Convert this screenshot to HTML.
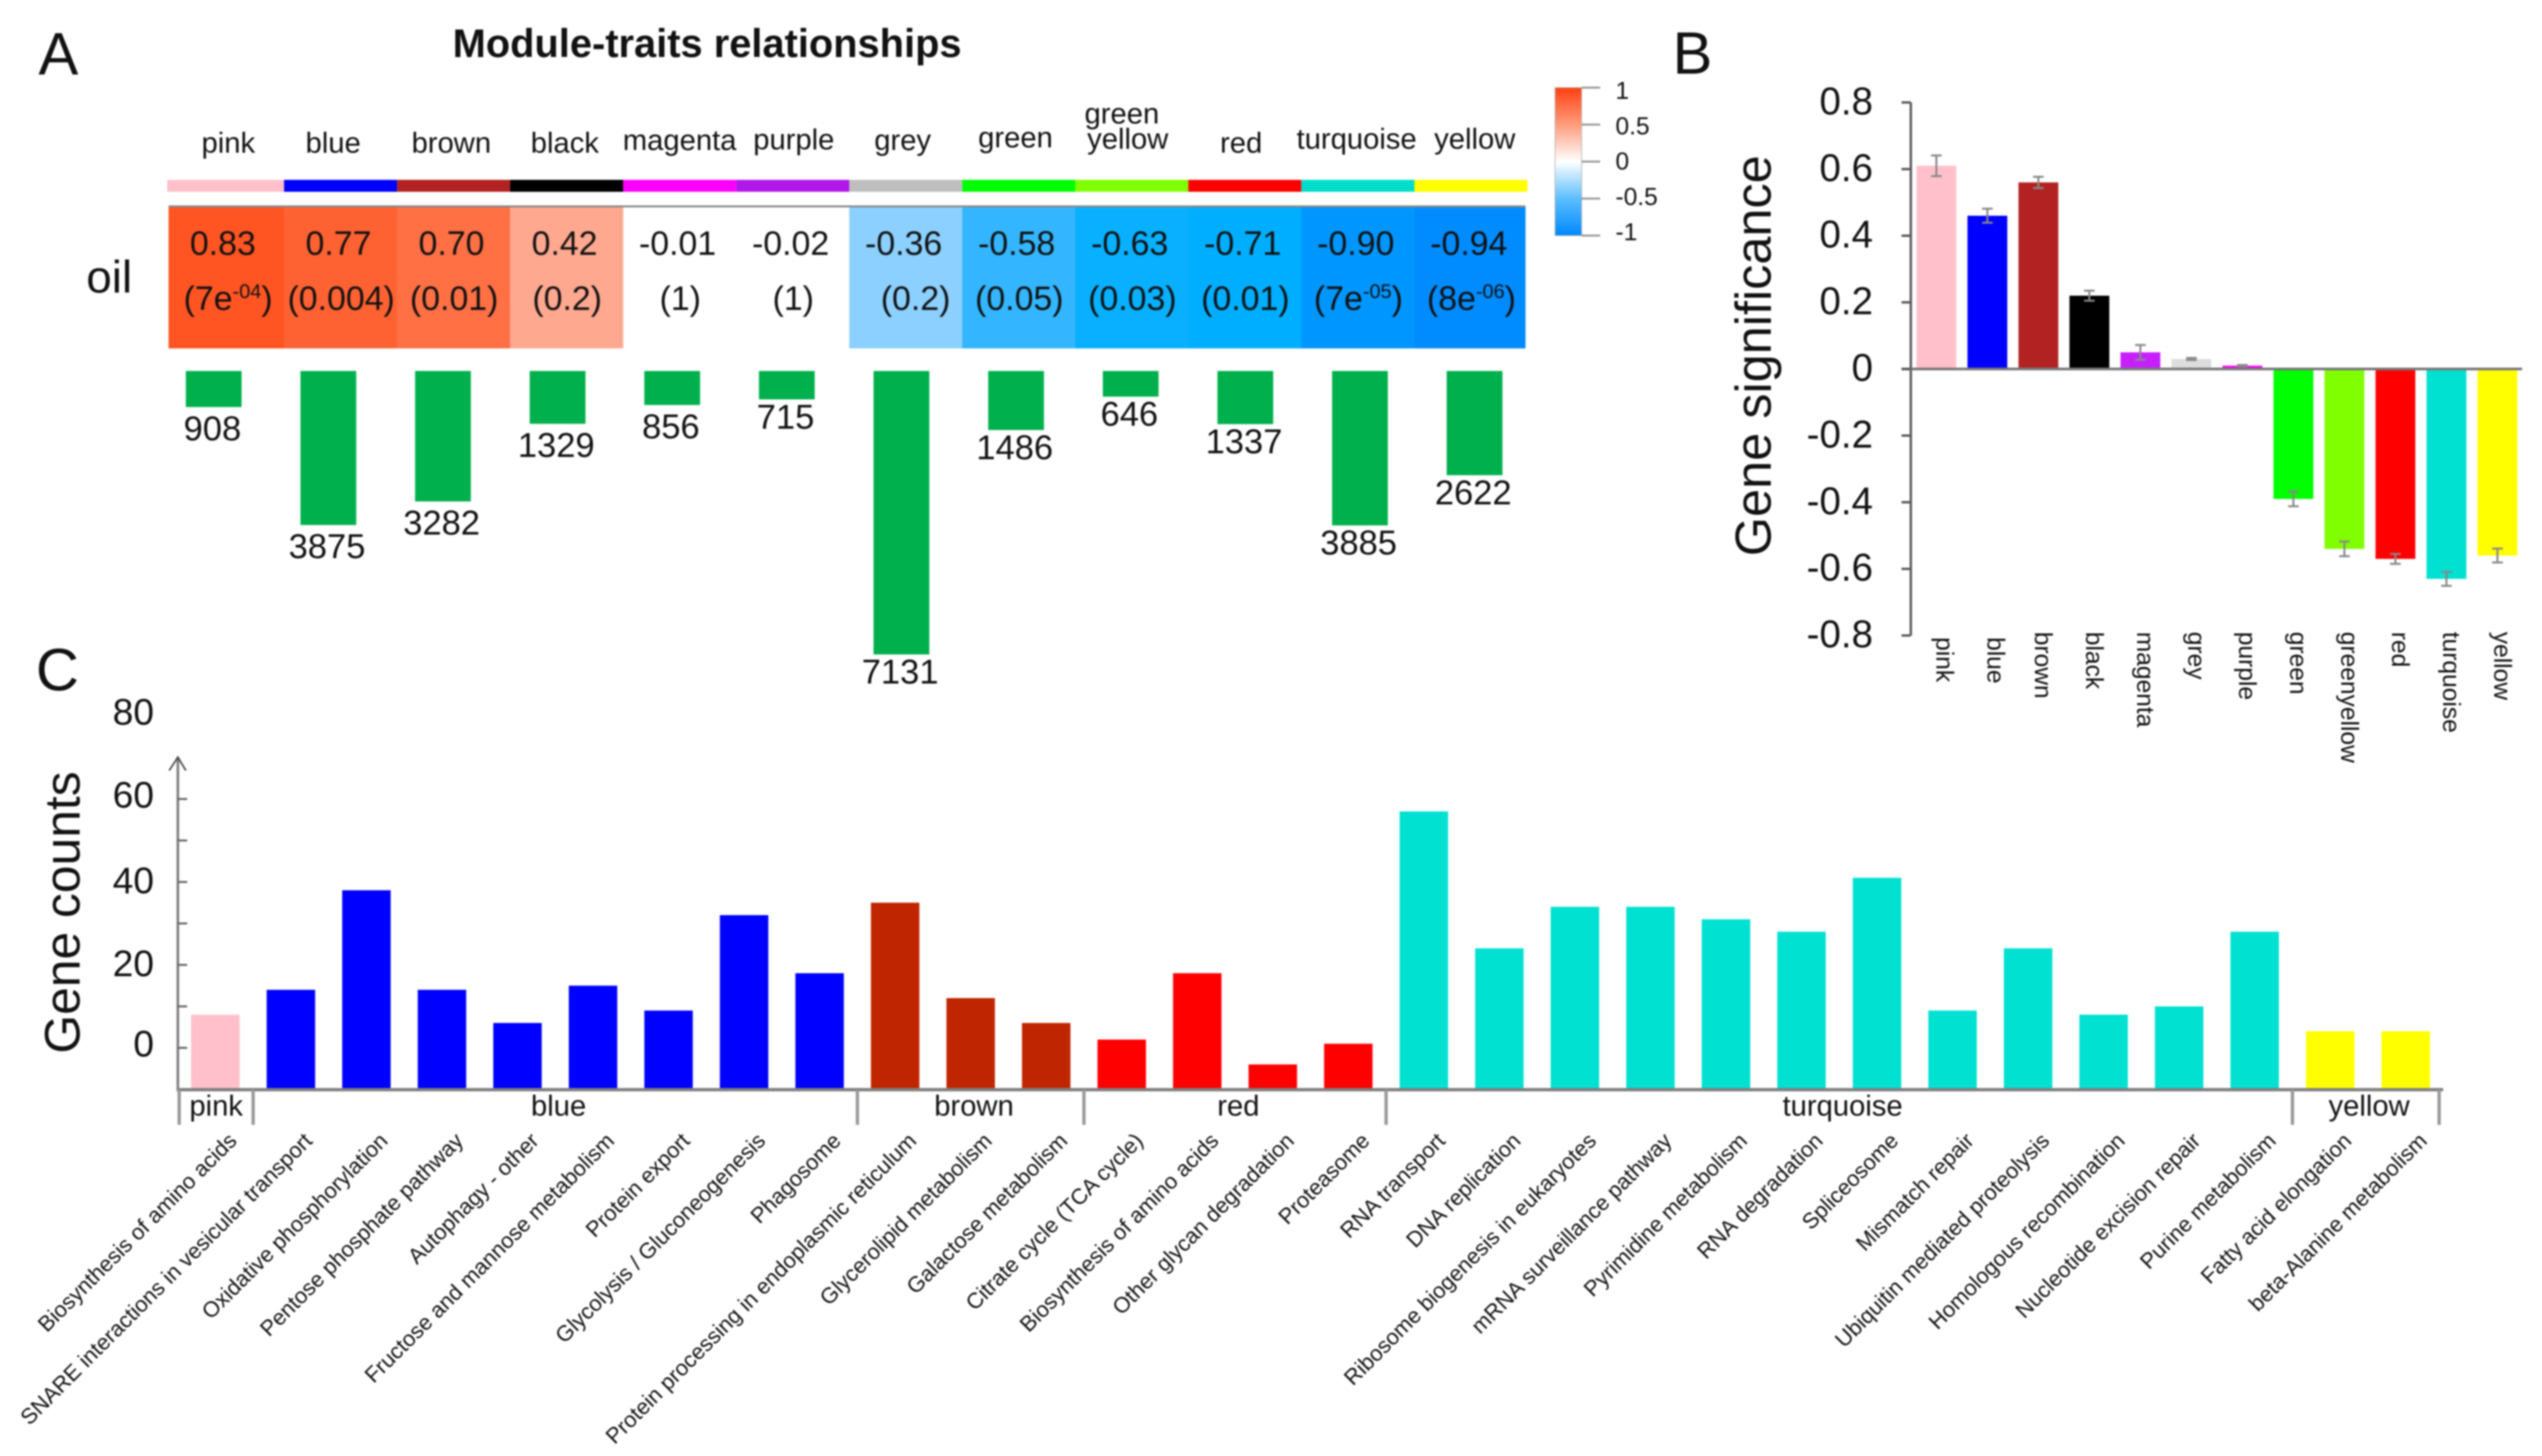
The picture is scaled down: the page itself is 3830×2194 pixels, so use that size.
<!DOCTYPE html>
<html lang="en">
<head>
<meta charset="utf-8">
<title>Module-traits relationships</title>
<style>
  html, body { margin: 0; padding: 0; background: #fff; }
  #figure { display: block; width: 3830px; height: 2194px; filter: blur(1.3px); font-family: "Liberation Sans", sans-serif; fill: #111; }
</style>
</head>
<body>
<svg id="figure" xmlns="http://www.w3.org/2000/svg" width="3830" height="2194" viewBox="0 0 3830 2194">
  <defs>
    <linearGradient id="legend-gradient" x1="0" y1="0" x2="0" y2="1">
      <stop offset="0" stop-color="#ff4010"/>
      <stop offset="0.25" stop-color="#ff9c7c"/>
      <stop offset="0.5" stop-color="#ffffff"/>
      <stop offset="0.75" stop-color="#5cbeff"/>
      <stop offset="1" stop-color="#0088ff"/>
    </linearGradient>
  </defs>
  <rect x="0" y="0" width="3830" height="2194" fill="#fff"/>

  <text x="58" y="112" font-size="90">A</text>
  <text x="2520" y="111" font-size="90">B</text>
  <text x="54" y="1040" font-size="90">C</text>

  <text x="682" y="86" font-size="60" font-weight="bold">Module-traits relationships</text>

  <g font-size="44" text-anchor="middle">
    <text x="344" y="230">pink</text>
    <text x="502" y="230">blue</text>
    <text x="680" y="230">brown</text>
    <text x="851" y="230">black</text>
    <text x="1024" y="226">magenta</text>
    <text x="1196" y="225">purple</text>
    <text x="1360" y="226">grey</text>
    <text x="1530" y="222">green</text>
    <text x="1634" y="186" text-anchor="start">green</text>
    <text x="1638" y="224" text-anchor="start">yellow</text>
    <text x="1870" y="230">red</text>
    <text x="2044" y="224">turquoise</text>
    <text x="2222" y="224">yellow</text>
  </g>

  <g id="module-strip"></g>
  <g id="heatmap"></g>
  <line x1="254" y1="311" x2="2298" y2="311" stroke="#888" stroke-width="3"/>
  <text x="130" y="441" font-size="69">oil</text>

  <g id="count-bars"></g>

  <g id="legend">
    <rect x="2343" y="132" width="40" height="223" fill="url(#legend-gradient)" stroke="#aaa" stroke-width="1"/>
  </g>

  <g id="chart-b"></g>
  <g id="chart-c"></g>
</svg>

<script>
// ---------- Panel A data ----------
const moduleNames = ['pink','blue','brown','black','magenta','purple','grey','green','greenyellow','red','turquoise','yellow'];
const moduleColors = ['#ffc0cb','#0000ff','#b22222','#000000','#ff00ff','#b018e8','#bebebe','#00ff00','#7fff00','#ff0000','#00ddcc','#ffff00'];
const correlations = [0.83,0.77,0.70,0.42,-0.01,-0.02,-0.36,-0.58,-0.63,-0.71,-0.90,-0.94];
const correlationLabels = ['0.83','0.77','0.70','0.42','-0.01','-0.02','-0.36','-0.58','-0.63','-0.71','-0.90','-0.94'];
const pValueLabels = ['(7e-04)','(0.004)','(0.01)','(0.2)','(1)','(1)','(0.2)','(0.05)','(0.03)','(0.01)','(7e-05)','(8e-06)'];
const moduleSizes = [908,3875,3282,1329,856,715,7131,1486,646,1337,3885,2622];
const legendTicks = [1,0.5,0,-0.5,-1];

// ---------- Panel B data ----------
const significanceNames = ['pink','blue','brown','black','magenta','grey','purple','green','greenyellow','red','turquoise','yellow'];
const significanceColors = ['#ffc0cb','#0000ff','#b22222','#000000','#c71fff','#dddddd','#ff00ff','#00ff00','#7fff00','#ff0000','#00e1d2','#ffff00'];
const significanceValues = [0.61,0.46,0.56,0.22,0.05,0.03,0.01,-0.39,-0.54,-0.57,-0.63,-0.56];
const significanceErrors = [0.031,0.021,0.017,0.015,0.022,0.003,0.002,0.022,0.022,0.015,0.021,0.021];
const significanceTicks = [0.8,0.6,0.4,0.2,0,-0.2,-0.4,-0.6,-0.8];

// ---------- Panel C data ----------
const pathwayNames = ['Biosynthesis of amino acids','SNARE interactions in vesicular transport','Oxidative phosphorylation','Pentose phosphate pathway','Autophagy - other','Fructose and mannose metabolism','Protein export','Glycolysis / Gluconeogenesis','Phagosome','Protein processing in endoplasmic reticulum','Glycerolipid metabolism','Galactose metabolism','Citrate cycle (TCA cycle)','Biosynthesis of amino acids','Other glycan degradation','Proteasome','RNA transport','DNA replication','Ribosome biogenesis in eukaryotes','mRNA surveillance pathway','Pyrimidine metabolism','RNA degradation','Spliceosome','Mismatch repair','Ubiquitin mediated proteolysis','Homologous recombination','Nucleotide excision repair','Purine metabolism','Fatty acid elongation','beta-Alanine metabolism'];
const pathwayCounts = [8,14,38,14,6,15,9,32,18,35,12,6,2,18,-4,1,57,24,34,34,31,28,41,9,24,8,10,28,4,4];
const pathwayModules = ['pink','blue','blue','blue','blue','blue','blue','blue','blue','brown','brown','brown','red','red','red','red','turquoise','turquoise','turquoise','turquoise','turquoise','turquoise','turquoise','turquoise','turquoise','turquoise','turquoise','turquoise','yellow','yellow'];
const groupNames = ['pink','blue','brown','red','turquoise','yellow'];
const groupColors = ['#ffc0cb','#0000ff','#bf2600','#ff0000','#00e1d2','#ffff00'];
const countTickLabels = [80,60,40,20,0];
const countTicks = [60,50,40,30,20,10,0];

// ---------- helpers ----------
const SVG_NS = 'http://www.w3.org/2000/svg';
function el(tag, attrs, parent) {
  const n = document.createElementNS(SVG_NS, tag);
  for (const k in attrs) n.setAttribute(k, attrs[k]);
  parent.appendChild(n);
  return n;
}
function slug(s) { return String(s).toLowerCase().replace(/[^a-z0-9]+/g, '-').replace(/^-|-$/g, ''); }
function hex2rgb(h) { return [1,3,5].map(i => parseInt(h.substr(i,2),16)); }
const colorStops = [[-1,'#0086ff'],[-0.94,'#008cff'],[-0.9,'#0096ff'],[-0.71,'#00aeff'],[-0.63,'#08b0ff'],[-0.58,'#33b6ff'],[-0.36,'#8cd0ff'],[-0.02,'#ffffff'],[0,'#ffffff'],[0.42,'#ffa890'],[0.7,'#ff7045'],[0.77,'#ff6232'],[0.83,'#ff5522'],[1,'#ff4010']];
function heatColor(v) {
  for (let i = 0; i < colorStops.length - 1; i++) {
    const a = colorStops[i], b = colorStops[i+1];
    if (v >= a[0] && v <= b[0]) {
      const t = (v - a[0]) / (b[0] - a[0]);
      const ca = hex2rgb(a[1]), cb = hex2rgb(b[1]);
      return 'rgb(' + ca.map((c,j) => Math.round(c + (cb[j]-c)*t)).join(',') + ')';
    }
  }
  return v < 0 ? colorStops[0][1] : colorStops[colorStops.length-1][1];
}

// ---------- Panel A ----------
function bandStart(i) { return 428 + 170.3 * (i - 1); }
function bandCenter(i) { return bandStart(i) + 82; }
const stripGroup = document.getElementById('module-strip');
const heatGroup = document.getElementById('heatmap');
moduleNames.forEach((name, i) => {
  const sx0 = i === 0 ? 252 : bandStart(i);
  const sx1 = bandStart(i + 1);
  const swatch = el('rect', {x: sx0, y: 271, width: sx1 - sx0, height: 18, fill: moduleColors[i]}, stripGroup);
  
  

  const cx0 = i === 0 ? 254 : bandStart(i);
  const cx1 = i === moduleNames.length - 1 ? 2298 : bandStart(i + 1);
  const cell = el('rect', {x: cx0, y: 311, width: cx1 - cx0 + 0.5, height: 214, fill: heatColor(correlations[i])}, heatGroup);
  
  

  const value = el('text', {x: bandCenter(i) - (i === 0 ? 4 : 0), y: 384, 'font-size': 51, 'text-anchor': 'middle'}, heatGroup);
  value.textContent = correlationLabels[i];
  
  

  const pv = el('text', {x: bandCenter(i) + 4 + (i === 6 ? 14 : 0), y: 467, 'font-size': 51, 'text-anchor': 'middle'}, heatGroup);
  
  
  const m = pValueLabels[i].match(/^(\(.*e)(-\d+)(\))$/);
  if (m) {
    const a = el('tspan', {}, pv); a.textContent = m[1];
    const b = el('tspan', {'font-size': 30, dy: -18}, pv); b.textContent = m[2];
    const c = el('tspan', {dy: 18}, pv); c.textContent = m[3];
  } else {
    pv.textContent = pValueLabels[i];
  }
});

const countGroup = document.getElementById('count-bars');
function sizeHeight(v) { return v * 0.0599; }
function sizeX(i) { return 322 + i * 172.7; }
moduleSizes.forEach((v, i) => {
  const h = sizeHeight(v);
  const bar = el('rect', {x: sizeX(i) - 42, y: 559, width: 84, height: h, fill: '#00b04c'}, countGroup);
  
  
  const label = el('text', {x: sizeX(i) - 2, y: 559 + h + (i < 5 ? 50 : 44), 'font-size': 52, 'text-anchor': 'middle'}, countGroup);
  label.textContent = v;
  
  
});

const legendGroup = document.getElementById('legend');
function legendY(v) { return 243.5 - 111.5 * v; }
function legendLabelY(v) { return 255.5 - 106.5 * v; }
legendTicks.forEach(v => {
  const t = el('line', {x1: 2383, x2: 2411, y1: legendY(v), y2: legendY(v), stroke: '#999', 'stroke-width': 3}, legendGroup);
  
  
  const l = el('text', {x: 2434, y: legendLabelY(v), 'font-size': 37}, legendGroup);
  l.textContent = v;
  
  
});

// ---------- Panel B ----------
const bGroup = document.getElementById('chart-b');
function yB(v) { return 556 - 502 * v; }
function xB(i) { return 2917.5 + 76.85 * i; }
const bWidth = 60;
const bTitle = el('text', {x: 2668, y: 536, 'font-size': 76, 'text-anchor': 'middle', transform: 'rotate(-90 2668 536)'}, bGroup);
bTitle.textContent = 'Gene significance';


significanceValues.forEach((v, i) => {
  const top = Math.min(yB(v), yB(0));
  const bar = el('rect', {x: xB(i) - bWidth/2, y: top, width: bWidth, height: Math.abs(yB(v) - yB(0)), fill: significanceColors[i]}, bGroup);
  
  
  const e = significanceErrors[i];
  const err = el('path', {d: 'M' + (xB(i)-8) + ' ' + yB(v+e) + 'H' + (xB(i)+8) + 'M' + xB(i) + ' ' + yB(v+e) + 'V' + yB(v-e) + 'M' + (xB(i)-8) + ' ' + yB(v-e) + 'H' + (xB(i)+8), fill: 'none', stroke: '#888', 'stroke-width': 3}, bGroup);
  
  
  const lx = xB(i) - (i < 2 ? 0 : 5), ly = i < 2 ? 960 : 952;
  const lab = el('text', {x: lx, y: ly, 'font-size': 37, transform: 'rotate(90 ' + lx + ' ' + ly + ')'}, bGroup);
  lab.textContent = significanceNames[i];
  
  
});
const bYAxis = el('line', {x1: 2879, x2: 2879, y1: yB(0.8), y2: yB(-0.8), stroke: '#555', 'stroke-width': 3.5}, bGroup);


const bXAxis = el('line', {x1: 2865, x2: 3800, y1: yB(0), y2: yB(0), stroke: '#777', 'stroke-width': 4}, bGroup);


significanceTicks.forEach(v => {
  const t = el('line', {x1: 2865, x2: 2879, y1: yB(v), y2: yB(v), stroke: '#555', 'stroke-width': 3.5}, bGroup);
  
  
  const l = el('text', {x: 2822, y: yB(v) + 18, 'font-size': 58, 'text-anchor': 'end'}, bGroup);
  l.textContent = v;
  
  
});

// ---------- Panel C ----------
const cGroup = document.getElementById('chart-c');
function yC(v) { return 1579 - 6.25 * v; }
function xC(i) { return 324.5 + 113.8 * i; }
const cBase = 1642, cWidth = 73;
const cTitle = el('text', {x: 120, y: 1375, 'font-size': 75, 'text-anchor': 'middle', transform: 'rotate(-90 120 1375)'}, cGroup);
cTitle.textContent = 'Gene counts';


pathwayCounts.forEach((v, i) => {
  const color = groupColors[groupNames.indexOf(pathwayModules[i])];
  const bar = el('rect', {x: xC(i) - cWidth/2, y: yC(v), width: cWidth, height: cBase - yC(v), fill: color}, cGroup);
  
  
  const lx = xC(i) + 34, ly = 1721;
  const lab = el('text', {x: lx, y: ly, 'font-size': 33, 'text-anchor': 'end', transform: 'rotate(-45 ' + lx + ' ' + ly + ')'}, cGroup);
  lab.textContent = pathwayNames[i];
  
  
});
const cYAxis = el('line', {x1: 268, x2: 268, y1: 1141, y2: cBase, stroke: '#808080', 'stroke-width': 4}, cGroup);


const cArrow = el('path', {d: 'M255 1161L268 1141L280 1161', fill: 'none', stroke: '#444', 'stroke-width': 2.5}, cGroup);


const cXAxis = el('line', {x1: 266, x2: 3681, y1: cBase, y2: cBase, stroke: '#808080', 'stroke-width': 5}, cGroup);


countTicks.forEach(v => {
  const t = el('line', {x1: 268, x2: 282, y1: yC(v), y2: yC(v), stroke: '#666', 'stroke-width': 3}, cGroup);
  
  
});
countTickLabels.forEach(v => {
  const l = el('text', {x: 232, y: yC(v) + 13 + (v === 40 || v === 20 ? 4 : 0), 'font-size': 56, 'text-anchor': 'end'}, cGroup);
  l.textContent = v;
  
  
});
// group brackets derived from which bars belong to each module
function edgeX(i) { return xC(i) - 56.9; }
const bracketEdges = [270];
groupNames.forEach(g => {
  const last = pathwayModules.lastIndexOf(g);
  const first = pathwayModules.indexOf(g);
  const x0 = first === 0 ? 270 : edgeX(first);
  const x1 = last === pathwayModules.length - 1 ? 3675 : edgeX(last + 1);
  bracketEdges.push(x1);
  const lab = el('text', {x: (x0 + x1) / 2 + (first === 0 ? 0 : 5), y: 1681, 'font-size': 44, 'text-anchor': 'middle'}, cGroup);
  lab.textContent = g;
  
  
});
bracketEdges.forEach(x => {
  const s = el('line', {x1: x, x2: x, y1: cBase, y2: 1695, stroke: '#999', 'stroke-width': 5}, cGroup);
  
  
});
</script>
</body>
</html>
